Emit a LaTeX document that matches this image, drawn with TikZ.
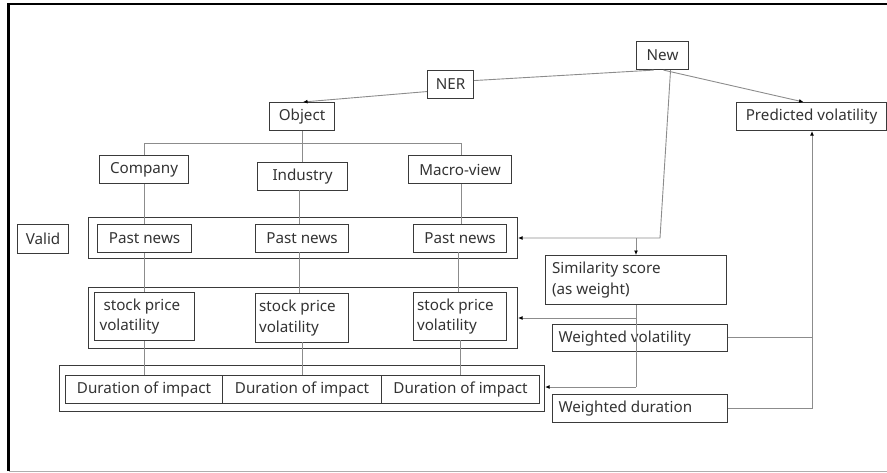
\documentclass[tikz,border=0pt]{standalone}
\usepackage{fontspec}
\setmainfont{Noto Sans}
\usetikzlibrary{arrows.meta}
\definecolor{boxc}{HTML}{3A3A3A}
\definecolor{linec}{HTML}{8C8C8C}
\definecolor{txtc}{HTML}{333333}
\tikzset{
  bx/.style={draw=boxc, line width=1.1pt, inner sep=0pt, text=txtc, font=\fontsize{15.2}{20.5}\selectfont},
  grp/.style={draw=boxc, line width=1.1pt, inner sep=0pt},
  ln/.style={draw=linec, line width=0.9pt},
  ar/.style={ln, arrows={-{Latex[length=4.5pt,width=4pt,color=black]}}},
}
\newcommand{\bxat}[6]{\node[bx, anchor=north west, minimum width={(#4-#2)*1pt}, minimum height={(#5-#3)*1pt}] (#1) at (#2,#3) {#6};}
\newcommand{\grpat}[5]{\node[grp, anchor=north west, minimum width={(#4-#2)*1pt}, minimum height={(#5-#3)*1pt}] (#1) at (#2,#3) {};}
\begin{document}
\begin{tikzpicture}[x=1pt,y=-1pt]
\useasboundingbox (0,0) rectangle (887,472);
% frame
\coordinate (fTL) at (8.5,4);
\coordinate (fTR) at (887,4);
\coordinate (fBL) at (8.5,471);
\coordinate (fBR) at (887,471);
\draw[linec!70, line width=1pt] (fBL) -- (fBR);
\draw[black, line width=2.6pt] (fBL) -- (fTL) -- (fTR);
% groups
\grpat{pngrp}{88}{217}{517}{258}
\grpat{spvgrp}{88}{287}{517}{348}
\grpat{dgrp}{59}{365}{544}{411}
% boxes
\bxat{new}{636}{41}{688}{69}{New}
\bxat{ner}{427}{70}{473}{98}{NER}
\bxat{obj}{269}{102}{334}{130}{Object}
\bxat{pred}{736}{102}{886}{130}{Predicted volatility}
\bxat{comp}{99}{155}{188}{183}{Company}
\bxat{ind}{257}{162}{347}{190}{Industry}
\bxat{macro}{408}{155}{511}{183}{Macro-view}
\bxat{valid}{17}{224}{68}{253}{Valid}
\bxat{pn1}{97}{224}{191}{252}{Past news}
\bxat{pn2}{255}{224}{348}{252}{Past news}
\bxat{pn3}{413}{224}{506}{252}{Past news}
\bxat{spv1}{94}{292}{194}{340}{\parbox{90pt}{\raggedright\ stock price\\volatility}}
\bxat{spv2}{255}{293}{348}{342}{\parbox{86pt}{\raggedright stock price\\volatility}}
\bxat{spv3}{413}{292}{506}{340}{\parbox{86pt}{\raggedright stock price\\volatility}}
\bxat{d1}{65}{375}{222}{403}{Duration of impact}
\bxat{d2}{222}{375}{381}{403}{Duration of impact}
\bxat{d3}{381}{375}{539}{403}{Duration of impact}
\bxat{sim}{545}{255}{726}{304}{\parbox{168pt}{\raggedright Similarity score\\(as weight)}}
\bxat{wv}{552}{324}{727}{351}{\parbox{163pt}{\raggedright Weighted volatility}}
\bxat{wd}{552}{394}{727}{422}{\parbox{163pt}{\raggedright Weighted duration}}
% coordinates
\coordinate (c1) at (144,143);
\coordinate (c3) at (461,143);
\coordinate (nv) at (660,238);
\coordinate (ns) at (636,238);
\coordinate (sv) at (636,318);
\coordinate (sd) at (636,387);
\coordinate (wvr) at (812,337);
\coordinate (wdr) at (812,408);
% connectors
\draw[ln] ([xshift=-9pt]new.south) -- ([yshift=4pt]ner.east);
\draw[ar] ([yshift=-7pt]ner.west) -- ([xshift=1pt]obj.north);
\draw[ar] ([xshift=1pt]new.south) -- ([xshift=-8pt]pred.north);
\draw[ln] (obj.south) -- (obj.south |- ind.north);
\draw[ln] (c1 |- comp.north) -- (c1) -- (c3) -- (c3 |- macro.north);
% columns
\draw[ln] (c1 |- comp.south) -- (c1 |- pn1.north);
\draw[ln] (c1 |- pn1.south) -- (c1 |- spv1.north);
\draw[ln] (c1 |- spv1.south) -- (c1 |- d1.north);
\draw[ln] (299,190) -- (299,224);
\draw[ln] (299,252) -- (299,293);
\draw[ln] (302,342) -- (302,375);
\draw[ln] (c3 |- macro.south) -- (c3 |- pn3.north);
\draw[ln] (458,252) -- (458,292);
\draw[ln] (460,340) -- (460,375);
% right side
\draw[ar] ([xshift=8pt]new.south) -- (nv) -- (nv -| pngrp.east);
\draw[ar] (ns) -- (sim.north -| ns);
\draw[ln] (sim.south -| ns) -- (sd);
\draw[ar] (sd) -- (sd -| dgrp.east);
\draw[ar] (sv) -- (sv -| spvgrp.east);
\draw[ln] (wvr -| wv.east) -- (wvr);
\draw[ln] (wdr -| wd.east) -- (wdr) -- (wvr);
\draw[ar] (wvr) -- (wvr |- pred.south);
\end{tikzpicture}
\end{document}
